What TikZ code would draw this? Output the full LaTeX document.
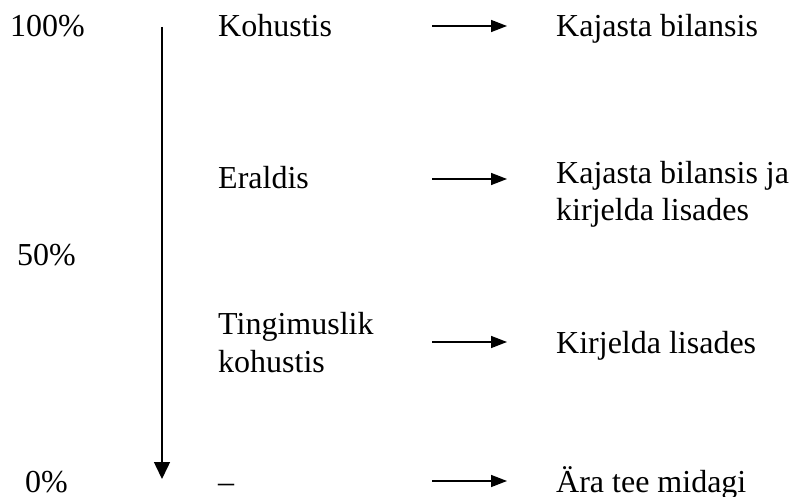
\documentclass[tikz,border=0pt]{standalone}
\usepackage{fontspec}
\setmainfont{Liberation Serif}
\usetikzlibrary{arrows.meta}

\begin{document}
\begin{tikzpicture}[x=1pt, y=-1pt,
textnode/.style={anchor=base west, inner sep=0pt, align=left, font=\fontsize{32}{37.5}\selectfont},
linkarrow/.style={line width=1.5pt, -{Triangle[width=12pt,length=16pt]}},
scalearrow/.style={line width=1.5pt, -{Triangle[width=16pt,length=17pt]}},
]
\useasboundingbox (0,0) rectangle (795,497);
%Nodes
\node[textnode]      (full)       at (10,37)   {100\%};
\node[textnode]      (half)       at (17,265)  {50\%};
\node[textnode]      (none)       at (25,492)  {0\%};
\node[textnode]      (kohustis)   at (218,37)  {Kohustis};
\node[textnode]      (eraldis)    at (218,189) {Eraldis};
\node[textnode]      (tingimus)   at (218,372) {Tingimuslik\\kohustis};
\node[textnode]      (dash)       at (218,492) {--};
\node[textnode]      (bilanss)    at (556,37)  {Kajasta bilansis};
\node[textnode]      (bilanssja)  at (556,221) {Kajasta bilansis ja\\kirjelda lisades};
\node[textnode]      (lisad)      at (556,353) {Kirjelda lisades};
\node[textnode]      (midagi)     at (556,492) {Ära tee midagi};

%Arrow ends
\coordinate (top)    at (162,27);
\coordinate (bottom) at (162,479);
\coordinate (a1) at (432,26);  \coordinate (b1) at (507,26);
\coordinate (a2) at (432,179); \coordinate (b2) at (507,179);
\coordinate (a3) at (432,342); \coordinate (b3) at (507,342);
\coordinate (a4) at (432,481); \coordinate (b4) at (507,481);

%Lines
\draw[scalearrow] (top) -- (bottom);
\draw[linkarrow] (a1) -- (b1);
\draw[linkarrow] (a2) -- (b2);
\draw[linkarrow] (a3) -- (b3);
\draw[linkarrow] (a4) -- (b4);
\end{tikzpicture}
\end{document}
